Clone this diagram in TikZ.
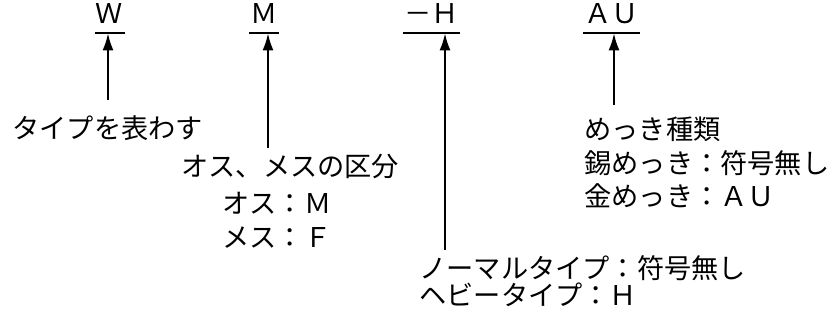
\documentclass[tikz,border=0pt]{standalone}
\usepackage{fontspec}
\setmainfont{Noto Sans CJK JP}
\usetikzlibrary{arrows.meta,positioning}

\begin{document}
\begin{tikzpicture}[
    x=0.5pt, y=-0.5pt,
    font=\fontsize{13.6}{16}\selectfont,
    code/.style={inner xsep=0.5pt, inner ysep=4.5pt, text depth=0pt, anchor=base},
    note/.style={inner sep=0pt, anchor=base west},
    uline/.style={line width=1pt},
    arrow/.style={-{Latex[length=8.5pt,width=5.5pt]}, line width=0.9pt},
]
\useasboundingbox (0,0) rectangle (839,326);

% ── Code parts ──
\node[code] (w) at (109.5,24) {Ｗ};
\node[code] (m) at (264,24) {Ｍ};
\node[code] (h) at (431.5,24) {－Ｈ};
\node[code] (au) at (611.5,24) {ＡＵ};

\draw[uline] (w.south west) -- (w.south east);
\draw[uline] (m.south west) -- (m.south east);
\draw[uline] (h.south west) -- (h.south east);
\draw[uline] (au.south west) -- (au.south east);

% ── Explanations ──
\node[note] (type) at (12,138) {タイプを表わす};
\node[note] (sex) at (181,176) {オス、メスの区分};
\node[note] (male) at (222,213) {オス：Ｍ};
\node[note] (female) at (222,247) {メス：Ｆ};
\node[note] (normal) at (419,278) {ノーマルタイプ：符号無し};
\node[note] (heavy) at (419,305) {ヘビータイプ：Ｈ};
\node[note] (plate) at (584,140) {めっき種類};
\node[note] (tin) at (584,173) {錫めっき：符号無し};
\node[note] (gold) at (584,206) {金めっき：ＡＵ};

% ── Arrows ──
\coordinate (wend) at (108,100);
\coordinate (mend) at (268,148);
\coordinate (hend) at (445,250);
\coordinate (auend) at (614,105);
\draw[arrow] (wend) -- (wend |- w.south);
\draw[arrow] (mend) -- (mend |- m.south);
\draw[arrow] (hend) -- (hend |- h.south);
\draw[arrow] (auend) -- (auend |- au.south);

\end{tikzpicture}
\end{document}
